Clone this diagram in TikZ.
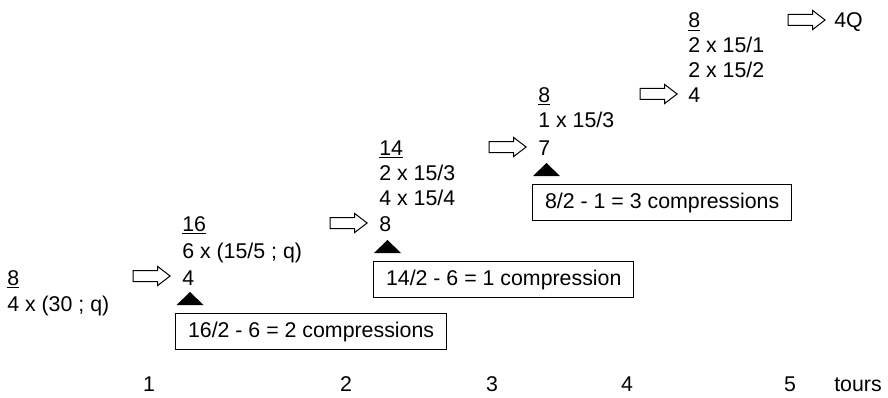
\documentclass[tikz,border=0pt]{standalone}
\usepackage{fontspec}
\setmainfont{Liberation Sans}
\usetikzlibrary{shapes.arrows}

\tikzset{
  nombre/.style={anchor=base west, inner sep=0pt},
  fleche/.style={single arrow, draw, line width=0.75pt,
    minimum height=27.75pt, minimum width=13.5pt,
    single arrow head extend=3pt, single arrow tip angle=75,
    inner sep=3.75pt},
  bilan/.style={draw, line width=0.75pt, anchor=north west,
    inner xsep=9.4pt, inner ysep=0pt, minimum height=27pt},
  tour/.style={anchor=base, inner sep=0pt}
}

\begin{document}
\begin{tikzpicture}[x=0.75pt, y=0.75pt, font=\fontsize{16}{19}\selectfont]

\useasboundingbox (0,0) rectangle (888,397);

% Tour 1
\node[nombre] (n1a) at (7,112) {\underline{8}};
\node[nombre] (n1b) at (7,86) {4 x (30 ; q)};

% Tour 2
\node[nombre] (n2a) at (182,166) {\underline{16}};
\node[nombre] (n2b) at (182,139) {6 x (15/5 ; q)};
\node[nombre] (n2c) at (182,112) {4};

% Tour 3
\node[nombre] (n3a) at (379,242) {\underline{14}};
\node[nombre] (n3b) at (379,217) {2 x 15/3};
\node[nombre] (n3c) at (379,192) {4 x 15/4};
\node[nombre] (n3d) at (379,166) {8};

% Tour 4
\node[nombre] (n4a) at (538,295) {\underline{8}};
\node[nombre] (n4b) at (538,269) {1 x 15/3};
\node[nombre] (n4c) at (538,242) {7};

% Tour 5
\node[nombre] (n5a) at (688,369) {\underline{8}};
\node[nombre] (n5b) at (688,344) {2 x 15/1};
\node[nombre] (n5c) at (688,319) {2 x 15/2};
\node[nombre] (n5d) at (688,295) {4};
\node[nombre] (fin) at (834,369) {4Q};

% Flèches
\node[fleche] (a1) at (148,121) {};
\node[fleche] (a2) at (345,174) {};
\node[fleche] (a3) at (504,250) {};
\node[fleche] (a4) at (655,303) {};
\node[fleche] (a5) at (803,377) {};

% Repères
\fill (176.5,92) -- (203.5,92) -- (190,105) -- cycle;
\fill (374,144) -- (401,144) -- (387.5,157) -- cycle;
\fill (533,221) -- (560,221) -- (546.5,234) -- cycle;

% Compressions
\node[bilan] (b1) at (175,84) {16/2 - 6 = 2 compressions};
\node[bilan] (b2) at (373,136) {14/2 - 6 = 1 compression};
\node[bilan] (b3) at (532,213) {8/2 - 1 = 3 compressions};

% Axe des tours
\node[tour] (t1) at (149,6) {1};
\node[tour] (t2) at (346,6) {2};
\node[tour] (t3) at (492,6) {3};
\node[tour] (t4) at (627,6) {4};
\node[tour] (t5) at (790,6) {5};
\node[tour] (tours) at (858,6) {tours};

\end{tikzpicture}
\end{document}
